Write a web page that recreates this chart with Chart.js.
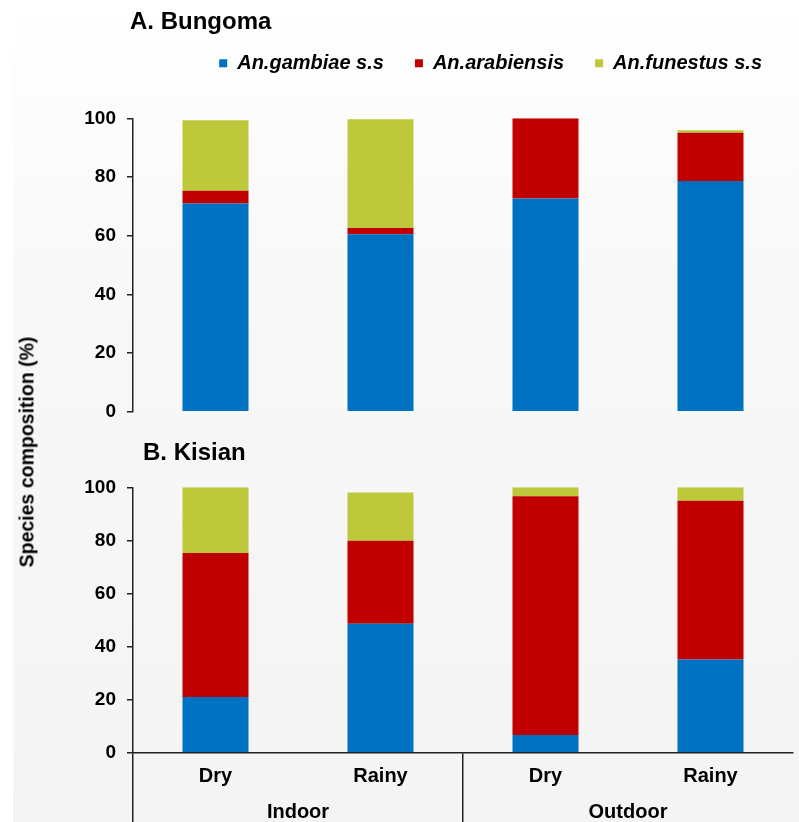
<!DOCTYPE html>
<html>
<head>
<meta charset="utf-8">
<script src="https://cdn.jsdelivr.net/npm/chart.js"></script>
<style>
  html, body { margin: 0; padding: 0; width: 799px; height: 822px; overflow: hidden; background: #ffffff; }
  #bg { position: absolute; left: 13px; top: 0; width: 786px; height: 822px;
        background: linear-gradient(to bottom, #ffffff 0%, #f8f8f8 35%, #f4f4f4 100%); }
  canvas { position: absolute; left: 0; }
  #cA { top: 0; }
  #cB { top: 425px; }
  .txt { position: absolute; font-family: 'Liberation Sans', Arial, Helvetica, sans-serif; font-weight: bold; color: #000; white-space: nowrap; }
  #tA { left: 130px; top: 21px; font-size: 24px; transform: translateY(-50%); }
  #tB { left: 143px; top: 452px; font-size: 24px; transform: translateY(-50%); }
  #yTitle { left: 27px; top: 452px; font-size: 19.5px; transform: translate(-50%, -50%) rotate(-90deg); }
</style>
</head>
<body>
<div id="bg"></div>
<canvas id="cA" width="799" height="440"></canvas>
<canvas id="cB" width="799" height="397"></canvas>
<div class="txt" id="tA">A. Bungoma</div>
<div class="txt" id="tB">B. Kisian</div>
<div class="txt" id="yTitle">Species composition (%)</div>
<script>
// ---- data ----
const categories = ['Dry', 'Rainy', 'Dry', 'Rainy'];
const groups = ['Indoor', 'Outdoor'];
const seriesNames = ['An.gambiae s.s', 'An.arabiensis', 'An.funestus s.s'];
const bungomaGambiae    = [71.0, 60.5, 72.7, 78.6];
const bungomaArabiensis = [4.3, 2.1, 27.3, 16.5];
const bungomaFunestus   = [24.0, 37.1, 0.0, 0.8];
const kisianGambiae     = [21.0, 48.6, 6.7, 35.1];
const kisianArabiensis  = [54.2, 31.3, 89.9, 59.8];
const kisianFunestus    = [24.8, 18.1, 3.4, 5.1];
const yTicks = [0, 20, 40, 60, 80, 100];

// ---- styles ----
const colors = ['#0070C0', '#C00000', '#BEC83B'];
const FAMILY = "'Liberation Sans', Arial, Helvetica, sans-serif";
Chart.defaults.font.family = FAMILY;
Chart.defaults.color = '#000';
const AXIS = '#222';

function makeDatasets(vals) {
  return vals.map((v, i) => ({
    label: seriesNames[i],
    data: v,
    backgroundColor: colors[i],
    borderWidth: 0,
    barPercentage: 0.4,
    categoryPercentage: 1.0
  }));
}

function yScale() {
  return {
    type: 'linear',
    position: 'left',
    stacked: true,
    min: 0, max: 100,
    afterBuildTicks: s => { s.ticks = yTicks.map(v => ({ value: v })); },
    afterFit: s => { s.width = 133; },
    ticks: { font: { size: 19, weight: 'bold' }, color: '#000', padding: 11 },
    grid: { drawOnChartArea: false, drawTicks: true, tickLength: 6, color: AXIS, lineWidth: 1.5 },
    border: { display: true, color: AXIS, width: 1.5 }
  };
}

// ---- Panel A ----
new Chart(document.getElementById('cA'), {
  type: 'bar',
  data: { labels: categories, datasets: makeDatasets([bungomaGambiae, bungomaArabiensis, bungomaFunestus]) },
  options: {
    responsive: false,
    animation: false,
    layout: { padding: { left: 0, right: 6, top: 22.3, bottom: 28.3 } },
    plugins: {
      tooltip: { enabled: false },
      title: { display: false },
      legend: {
        display: true,
        position: 'top',
        align: 'end',
        labels: {
          boxWidth: 8, boxHeight: 8, padding: 31,
          font: { size: 20, weight: 'bold', style: 'italic' },
          color: '#000'
        }
      }
    },
    scales: {
      x: {
        type: 'category',
        position: 'top',
        stacked: true,
        afterFit: s => { s.height = 35; },
        ticks: { display: false },
        grid: { display: false },
        border: { display: false }
      },
      y: yScale()
    }
  }
});

// ---- Panel B ----
new Chart(document.getElementById('cB'), {
  type: 'bar',
  data: { labels: categories, datasets: makeDatasets([kisianGambiae, kisianArabiensis, kisianFunestus]) },
  options: {
    responsive: false,
    animation: false,
    layout: { padding: { left: 0, right: 6, top: 62.3, bottom: 0 } },
    plugins: {
      tooltip: { enabled: false },
      title: { display: false },
      legend: { display: false }
    },
    scales: {
      x: {
        type: 'category',
        position: 'bottom',
        stacked: true,
        afterFit: s => { s.height = 36; },
        ticks: { font: { size: 20, weight: 'bold' }, color: '#000', padding: -58, autoSkip: false, maxRotation: 0 },
        grid: {
          offset: true,
          drawOnChartArea: false,
          drawTicks: true,
          tickLength: 70,
          lineWidth: 1.5,
          color: ctx => (ctx.index === 0 || ctx.index === 2) ? AXIS : 'rgba(0,0,0,0)'
        },
        border: { display: true, color: AXIS, width: 1.5 }
      },
      x2: {
        type: 'category',
        position: 'bottom',
        labels: groups,
        offset: true,
        afterFit: s => { s.height = 33.3; },
        ticks: { font: { size: 20, weight: 'bold' }, color: '#000', padding: 11.3, autoSkip: false, maxRotation: 0 },
        grid: { display: false, drawTicks: false },
        border: { display: false }
      },
      y: yScale()
    }
  }
});
</script>
</body>
</html>
